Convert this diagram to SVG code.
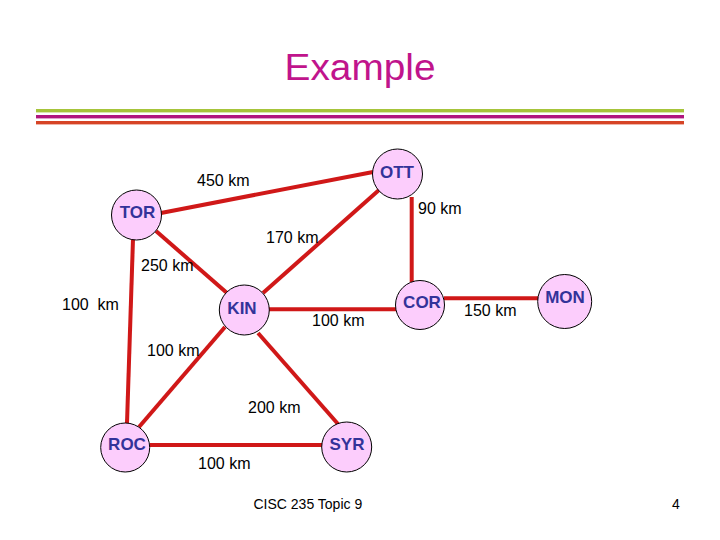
<svg xmlns="http://www.w3.org/2000/svg" width="720" height="540" viewBox="0 0 720 540">
<style>
.edge{stroke:#d01818;stroke-width:4;fill:none;stroke-linecap:butt}
.node circle{fill:#fccdfc;stroke:#000;stroke-width:1}
.node text{font-family:"Liberation Sans",Arial,sans-serif;font-weight:bold;font-size:17px;fill:#333399;text-anchor:middle}
.lbl{font-family:"Liberation Sans",Arial,sans-serif;font-size:16px;fill:#000}
.foot{font-family:"Liberation Sans",Arial,sans-serif;font-size:14px;fill:#000}
</style>
<rect width="720" height="540" fill="#fff"/>
<text x="360" y="80" font-family="Liberation Sans, Arial, sans-serif" font-size="37" fill="#c0148c" text-anchor="middle" textLength="151" lengthAdjust="spacingAndGlyphs">Example</text>
<rect x="36" y="109" width="648" height="3.4" fill="#a6c43a"/>
<rect x="36" y="115" width="648" height="3.4" fill="#b0167e"/>
<rect x="36" y="121" width="648" height="3.4" fill="#d64426"/>
<g id="connectors">
<line class="edge" x1="161" y1="213" x2="373" y2="172"/>
<line class="edge" x1="379" y1="190" x2="263" y2="293"/>
<line class="edge" x1="156" y1="231" x2="227" y2="293"/>
<line class="edge" x1="133" y1="239" x2="127" y2="423"/>
<line class="edge" x1="411.7" y1="197" x2="411.7" y2="282"/>
<line class="edge" x1="269" y1="309.3" x2="396" y2="309.3"/>
<line class="edge" x1="444" y1="298.3" x2="538" y2="298.3"/>
<line class="edge" x1="225" y1="327" x2="139" y2="427"/>
<line class="edge" x1="258" y1="333" x2="338" y2="424"/>
<line class="edge" x1="150" y1="445" x2="322" y2="445"/>
</g>
<g id="node-OTT" class="node"><circle cx="397.5" cy="174" r="25"/><text x="397" y="178">OTT</text></g>
<g id="node-TOR" class="node"><circle cx="136.5" cy="215" r="25"/><text x="137.5" y="218">TOR</text></g>
<g id="node-KIN" class="node"><circle cx="244.3" cy="310" r="25"/><text x="242" y="314">KIN</text></g>
<g id="node-COR" class="node"><circle cx="420" cy="305" r="24.5"/><text x="422" y="308">COR</text></g>
<g id="node-MON" class="node"><circle cx="564.7" cy="301.5" r="27"/><text x="565" y="303">MON</text></g>
<g id="node-ROC" class="node"><circle cx="125.2" cy="447.5" r="24.5"/><text x="127" y="450">ROC</text></g>
<g id="node-SYR" class="node"><circle cx="346.7" cy="447" r="25"/><text x="347" y="450">SYR</text></g>
<g id="labels">
<text class="lbl" x="197" y="186">450 km</text>
<text class="lbl" x="418" y="214">90 km</text>
<text class="lbl" x="266" y="243">170 km</text>
<text class="lbl" x="141" y="271">250 km</text>
<text class="lbl" x="62" y="310" xml:space="preserve">100  km</text>
<text class="lbl" x="312" y="326">100 km</text>
<text class="lbl" x="464" y="316">150 km</text>
<text class="lbl" x="147" y="356">100 km</text>
<text class="lbl" x="248" y="413">200 km</text>
<text class="lbl" x="198" y="469">100 km</text>
</g>
<text class="foot" x="253.5" y="509">CISC 235 Topic 9</text>
<text class="foot" x="672" y="509">4</text>
</svg>
